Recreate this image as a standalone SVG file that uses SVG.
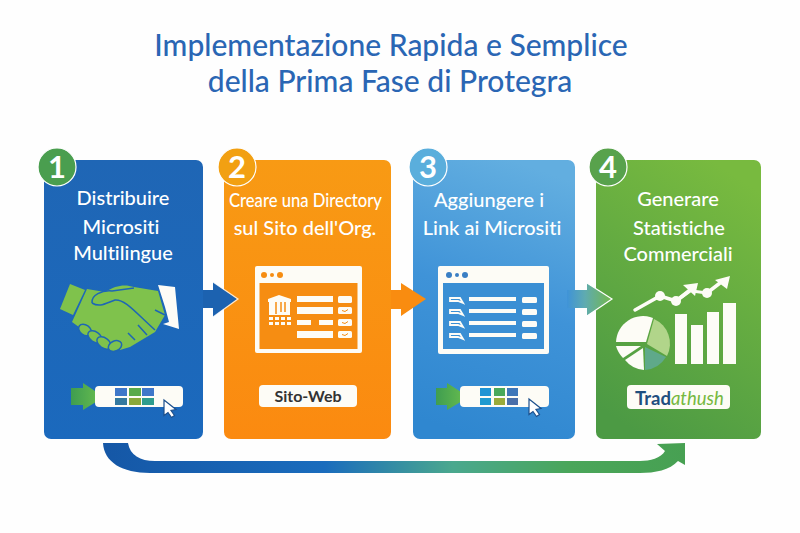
<svg xmlns="http://www.w3.org/2000/svg" width="800" height="533" viewBox="0 0 800 533">
<style>
text{font-family:"Lato","Open Sans","Liberation Sans",sans-serif;font-variant-ligatures:none}
.t{fill:#fff;font-size:20px;font-weight:500;text-anchor:middle}
.h{font-size:30px;font-weight:500;fill:#2a66b4;text-anchor:middle}
.n{fill:#fff;font-size:31px;font-weight:700;text-anchor:middle}
.w{fill:#fdfcf6}
.ring{stroke:#fff;stroke-width:1.200}
.edge{stroke:#fff;stroke-width:1.200;stroke-linejoin:miter}
.hb{stroke:#1e66b5;stroke-width:1.500}
</style>
<defs>
<linearGradient id="g1" x1="0" y1="0" x2="0" y2="1"><stop offset="0" stop-color="#1f66b5"/><stop offset="1" stop-color="#1b69bd"/></linearGradient>
<linearGradient id="g2" x1="0" y1="0" x2="0" y2="1"><stop offset="0" stop-color="#f89a14"/><stop offset="1" stop-color="#fb8a10"/></linearGradient>
<linearGradient id="g3" x1="0.6" y1="0" x2="0.4" y2="1"><stop offset="0" stop-color="#62aee0"/><stop offset="0.5" stop-color="#3f93d8"/><stop offset="1" stop-color="#2f87d0"/></linearGradient>
<linearGradient id="g4" x1="0.7" y1="0" x2="0.3" y2="1"><stop offset="0" stop-color="#78ba3f"/><stop offset="1" stop-color="#4c9a44"/></linearGradient>
<linearGradient id="a3" x1="0" y1="0" x2="1" y2="0"><stop offset="0" stop-color="#3f93d8"/><stop offset="0.4" stop-color="#5fabb0"/><stop offset="1" stop-color="#74b84a"/></linearGradient>
<linearGradient id="long" gradientUnits="userSpaceOnUse" x1="103" y1="0" x2="686" y2="0"><stop offset="0" stop-color="#1557a6"/><stop offset="0.38" stop-color="#1a6cbd"/><stop offset="0.6" stop-color="#4aa88e"/><stop offset="0.8" stop-color="#4aa65a"/><stop offset="1" stop-color="#47a052"/></linearGradient>
<linearGradient id="ga" x1="0" y1="0" x2="1" y2="0"><stop offset="0" stop-color="#3f9d50"/><stop offset="1" stop-color="#6cc04e"/></linearGradient>
<g id="cursor"><path d="M0 0 L0 15.500 L4 12.500 L7.500 17.500 L10.500 15.500 L7 10.500 L12 9.500 Z" fill="#fff" stroke="#1c4f8c" stroke-width="1.200"/></g>
</defs>
<rect width="800" height="533" fill="#fefefe"/>
<g id="title">
<text class="h" x="391" y="56">Implementazione Rapida e Semplice</text>
<text class="h" x="390" y="92">della Prima Fase di Protegra</text>
</g>
<g id="node1">
<rect x="44" y="160" width="159" height="279" rx="7" fill="url(#g1)"/>
<circle class="ring" cx="57" cy="167" r="19" fill="#4a9e4f"/>
<text class="n" x="57" y="178">1</text>
<text class="t" x="123" y="205">Distribuire</text>
<text class="t" x="121" y="234">Micrositi</text>
<text class="t" x="123" y="260">Multilingue</text>
<path d="M70 284 L85 290 L73 315 L60 309 Z" fill="#7fc24c"/>
<path d="M87 289 L105 292 C116 285 125 284 134 287 L158 291 L165 315 L155 332 L130 347 L120 350 L90 335 L72 322 Z" fill="#7fc24c"/>
<g fill="#7fc24c" class="hb">
<ellipse cx="85" cy="330" rx="7" ry="5" transform="rotate(35 85 330)"/>
<ellipse cx="95" cy="337" rx="8" ry="5" transform="rotate(35 95 337)"/>
<ellipse cx="104" cy="343" rx="8" ry="5" transform="rotate(35 104 343)"/>
<ellipse cx="115" cy="346" rx="7" ry="5" transform="rotate(-25 115 346)"/>
</g>
<path d="M92 303 C91 295 102 290 112 291 L134 288 M92 303 C100 308 106 303 115 300 C125 299 135 312 155 330 M138 325 L147 335 M128 333 L135 340 M155 310 L165 315" fill="none" class="hb"/>
<path d="M158 285 L175 287 L179 329 L163 324 L169 322 L165 307 Z" class="w"/>
<path d="M71 388 H83 V383 L104 397 L83 410 V405 H71 Z" fill="url(#ga)"/>
<rect x="95" y="386" width="88" height="21" rx="4" class="w"/>
<rect x="115" y="388" width="12" height="8" fill="#3f77c9"/><rect x="129" y="388" width="12" height="8" fill="#5aaa4a"/><rect x="142" y="388" width="12" height="8" fill="#3f77c9"/>
<rect x="115" y="398" width="12" height="7" fill="#34799f"/><rect x="129" y="398" width="12" height="7" fill="#8aa83a"/><rect x="142" y="398" width="12" height="7" fill="#2e9c8e"/>
<use href="#cursor" x="164" y="400"/>
</g>
<g id="node2">
<rect x="224" y="160" width="167" height="279" rx="7" fill="url(#g2)"/>
<circle class="ring" cx="237" cy="167" r="19" fill="#f2a012"/>
<text class="n" x="237" y="178">2</text>
<text class="t" x="305.500" y="207" textLength="153" lengthAdjust="spacingAndGlyphs">Creare una Directory</text>
<text class="t" x="305" y="235">sul Sito dell'Org.</text>
<rect x="255" y="266" width="107" height="87" rx="2" class="w"/>
<rect x="259.500" y="283" width="98" height="66" fill="#f68d12"/>
<circle cx="264" cy="275" r="3" fill="#f68d12"/><circle cx="272" cy="275" r="2" fill="#f68d12"/><circle cx="280" cy="275" r="3" fill="#f68d12"/>
<g class="w">
<path d="M268 299 L279 295 L291 299 V302 H268 Z"/><rect x="269" y="302" width="21" height="13"/>
<rect x="269" y="317" width="4" height="3"/><rect x="275" y="317" width="4" height="3"/><rect x="281" y="317" width="4" height="3"/><rect x="287" y="317" width="4" height="3"/>
<rect x="269" y="322" width="4" height="3"/><rect x="275" y="322" width="4" height="3"/><rect x="281" y="322" width="4" height="3"/><rect x="287" y="322" width="4" height="3"/>
<rect x="297" y="296" width="36" height="6"/><rect x="297" y="307" width="36" height="7"/><rect x="297" y="320" width="14" height="5"/><rect x="319" y="320" width="14" height="5"/><rect x="297" y="331" width="36" height="7"/>
<rect x="338" y="296" width="14" height="7" rx="1.500"/><rect x="338" y="307" width="14" height="7" rx="1.500"/><rect x="338" y="319" width="14" height="7" rx="1.500"/><rect x="338" y="331" width="14" height="7" rx="1.500"/>
</g>
<path d="M276 302 V314 M281 302 V312 M285 302 V312" stroke="#f68d12" stroke-width="1.500"/>
<path d="M342 310.500 L345 311.500 L348 309.500 M342 322.500 L345 323.500 L348 321.500 M342 334.500 L345 335.500 L348 333.500" stroke="#f68d12" fill="none"/>
<rect x="259" y="385" width="98" height="22" rx="4" class="w"/>
<text x="308" y="402" font-size="16" fill="#333" text-anchor="middle" font-weight="700">Sito-Web</text>
</g>
<g id="node3">
<rect x="413" y="160" width="162" height="279" rx="7" fill="url(#g3)"/>
<circle class="ring" cx="428" cy="167" r="19" fill="#5aaedc"/>
<text class="n" x="428" y="178">3</text>
<text class="t" x="489" y="207">Aggiungere i</text>
<text class="t" x="492" y="235">Link ai Micrositi</text>
<rect x="438" y="266" width="111" height="88" rx="2" class="w"/>
<rect x="443" y="283" width="101" height="66" fill="#3a8fd4"/>
<circle cx="449" cy="275" r="3" fill="#3a7fc4"/><circle cx="457" cy="275" r="2" fill="#3a7fc4"/><circle cx="465" cy="275" r="3" fill="#3a7fc4"/>
<g class="w">
<rect x="469" y="297" width="47" height="4"/><rect x="469" y="309" width="47" height="4"/><rect x="469" y="321" width="47" height="4"/><rect x="469" y="333" width="47" height="4"/>
<rect x="522" y="297" width="15" height="6" rx="1.500"/><rect x="522" y="309" width="15" height="6" rx="1.500"/><rect x="522" y="321" width="15" height="6" rx="1.500"/><rect x="522" y="333" width="15" height="6" rx="1.500"/>
</g>
<g fill="none" stroke="#fdfcf6" stroke-width="1.800"><path d="M450 298 H460 L463 303 L458 301 H450 Z"/><path d="M450 310 H460 L463 315 L458 313 H450 Z"/><path d="M450 322 H460 L463 327 L458 325 H450 Z"/><path d="M450 334 H460 L463 339 L458 337 H450 Z"/></g>
<path d="M436 388 H447 V383 L469 397 L447 410 V405 H436 Z" fill="url(#ga)"/>
<rect x="460" y="386" width="89" height="21" rx="4" class="w"/>
<rect x="480" y="388" width="11" height="8" fill="#1f94d4"/><rect x="494" y="388" width="11" height="8" fill="#4aa95a"/><rect x="507" y="388" width="11" height="8" fill="#3f77b9"/>
<rect x="480" y="398" width="11" height="7" fill="#1f9ad0"/><rect x="494" y="398" width="11" height="7" fill="#9aab3a"/><rect x="507" y="398" width="11" height="7" fill="#4a6fa9"/>
<use href="#cursor" x="529" y="399"/>
</g>
<g id="node4">
<rect x="596" y="160" width="165" height="279" rx="7" fill="url(#g4)"/>
<circle class="ring" cx="608" cy="167" r="19" fill="#58a24c"/>
<text class="n" x="608" y="178">4</text>
<text class="t" x="678" y="206">Generare</text>
<text class="t" x="679" y="235">Statistiche</text>
<text class="t" x="678" y="261">Commerciali</text>
<path d="M635 310 L660 296 L676 301 L691 290" fill="none" stroke="#fdfcf6" stroke-width="3.500" stroke-linecap="round"/>
<path d="M683 285 L698 283 L695 296 Z" class="w"/>
<path d="M676 301 L690 290 M707 293 L720 283" fill="none" stroke="#fdfcf6" stroke-width="3.500"/>
<path d="M715 280 L730 276 L727 289 Z" class="w"/>
<circle cx="660" cy="296" r="5" class="w"/><circle cx="676" cy="301" r="5" class="w"/><circle cx="707" cy="293" r="5" class="w"/>
<path d="M692 291 L707 293" stroke="#fdfcf6" stroke-width="3"/>
<path d="M646 342 L653 318 A27 27 0 0 0 616 342 Z" class="w"/>
<path d="M641 346 L616 346 A27 27 0 0 0 623 358 Z" class="w"/>
<path d="M643 348 L625 360 A27 27 0 0 0 644 370 Z" class="w"/>
<path d="M645 347 L666 357 A27 27 0 0 1 645 370 Z" fill="#5fa98a"/>
<path d="M647 344 L654 319 A27 27 0 0 1 667 356 Z" fill="#b1d58a"/>
<rect x="675" y="314" width="12" height="50" class="w"/><rect x="691" y="325" width="12" height="39" class="w"/><rect x="707" y="312" width="12" height="52" class="w"/><rect x="723" y="303" width="13" height="61" class="w"/>
<rect x="627" y="385" width="103" height="24" rx="4" class="w"/>
<text x="635" y="405" font-size="18.500" font-weight="700" fill="#1f4f7f">Trad<tspan fill="#76b83f" font-style="italic" font-weight="400">athush</tspan></text>
</g>
<g id="connectors">
<path d="M103 443 H128 C130 455 140 461 155 461 H640 C650 461 661 458 665 451 L657 444 L685 443 V465 L678 461 C670 470 655 473 640 473 H150 C122 473 104 462 103 443 Z" fill="url(#long)"/>
<path d="M203 290 H213 V282 L237 299 L213 317 V308 H203 Z" fill="#1c62b0"/>
<path d="M213 282 L238 299 L213 317" fill="none" class="edge" opacity="0.800"/>
<path d="M391 290 H401 V283 L426 299 L401 316 V309 H391 Z" fill="#f98c10"/>
<path d="M567 290 H587 V283 L612 299 L587 316 V308 H567 Z" fill="url(#a3)"/>
<path d="M587 283 L612 299 L587 316" fill="none" class="edge"/>
</g>
</svg>
